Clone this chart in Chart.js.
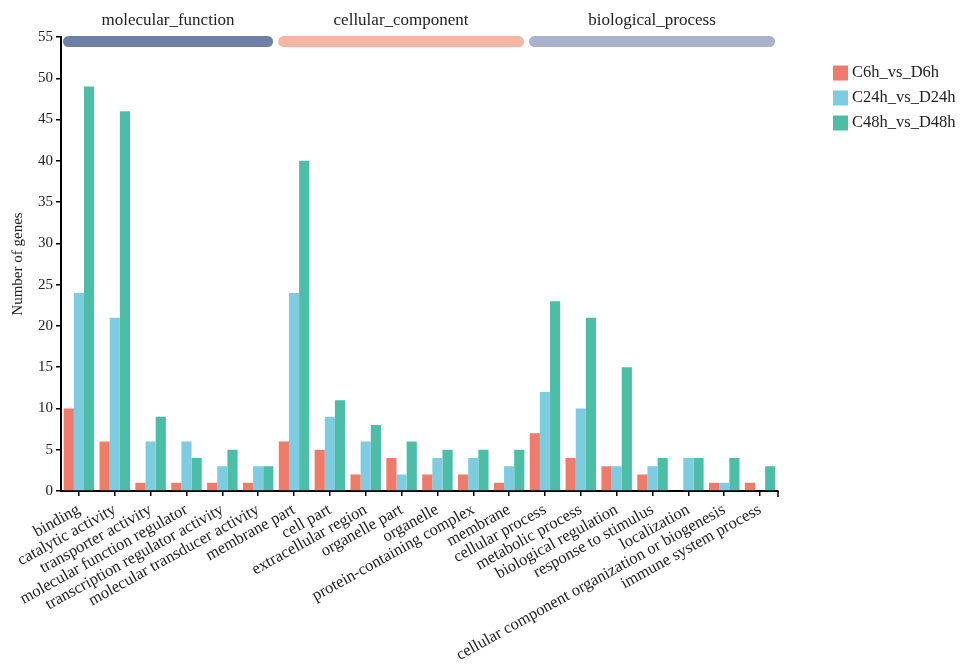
<!DOCTYPE html>
<html><head><meta charset="utf-8">
<script src="https://cdn.jsdelivr.net/npm/chart.js@4.4.1/dist/chart.umd.min.js"></script>
<style>html,body{margin:0;padding:0;background:#fff}#wrap{width:963px;height:665px;position:relative}</style>
</head><body><div id="wrap"><canvas id="c"></canvas></div>
<script>
const categories = ['binding','catalytic activity','transporter activity','molecular function regulator','transcription regulator activity','molecular transducer activity','membrane part','cell part','extracellular region','organelle part','organelle','protein-containing complex','membrane','cellular process','metabolic process','biological regulation','response to stimulus','localization','cellular component organization or biogenesis','immune system process'];
const c6h = [10,6,1,1,1,1,6,5,2,4,2,2,1,7,4,3,2,0,1,1];
const c24h = [24,21,6,6,3,3,24,9,6,2,4,4,3,12,10,3,3,4,1,0];
const c48h = [49,46,9,4,5,3,40,11,8,6,5,5,5,23,21,15,4,4,4,3];
const seriesNames = ['C6h_vs_D6h','C24h_vs_D24h','C48h_vs_D48h'];
const seriesColors = ['#ef7b6b','#7ecce0','#4cbea8'];
const groupNames = ['molecular_function','cellular_component','biological_process'];
const groupStart = [0,6,13];
const groupEnd = [5,12,19];
const groupColors = ['#6f80a8','#f5b6a4','#a9b1cc'];
const yMin = 0, yMax = 55, yStep = 5;

const FONT = 'Liberation Serif';

const decor = {
  id: 'decor',
  afterDraw(chart) {
    const ctx = chart.ctx;
    const xs = chart.scales.x;
    const ca = chart.chartArea;
    const half = (xs.getPixelForValue(1) - xs.getPixelForValue(0)) / 2;
    ctx.save();
    for (let g = 0; g < groupNames.length; g++) {
      const x0 = xs.getPixelForValue(groupStart[g]) - half + 2;
      const x1 = xs.getPixelForValue(groupEnd[g]) + half - 3;
      const y0 = ca.top - 1, h = 11;
      ctx.fillStyle = groupColors[g];
      ctx.beginPath();
      ctx.roundRect(x0, y0, x1 - x0, h, h / 2);
      ctx.fill();
      ctx.fillStyle = '#222';
      ctx.font = '17px "' + FONT + '"';
      ctx.textAlign = 'center';
      ctx.textBaseline = 'middle';
      ctx.fillText(groupNames[g], (x0 + x1) / 2, ca.top - 16);
    }
    ctx.strokeStyle = '#000';
    ctx.lineWidth = 1.5;
    ctx.beginPath();
    ctx.moveTo(ca.right, ca.bottom);
    ctx.lineTo(ca.right, ca.bottom + 6);
    ctx.stroke();
    const lx = ca.right + 55, ly = ca.top + 36;
    ctx.font = '16.5px "' + FONT + '"';
    ctx.textAlign = 'left';
    ctx.textBaseline = 'middle';
    for (let i = 0; i < seriesNames.length; i++) {
      const y = ly + i * 25;
      ctx.fillStyle = seriesColors[i];
      ctx.fillRect(lx, y - 7.5, 15, 15);
      ctx.fillStyle = '#222';
      ctx.fillText(seriesNames[i], lx + 19, y);
    }
    ctx.restore();
  }
};

new Chart(document.getElementById('c'), {
  type: 'bar',
  data: {
    labels: categories,
    datasets: [
      { label: seriesNames[0], data: c6h, backgroundColor: seriesColors[0] },
      { label: seriesNames[1], data: c24h, backgroundColor: seriesColors[1] },
      { label: seriesNames[2], data: c48h, backgroundColor: seriesColors[2] }
    ]
  },
  options: {
    responsive: true,
    maintainAspectRatio: false,
    animation: false,
    devicePixelRatio: 1,
    layout: { padding: { left: 5, right: 185, top: 37, bottom: 0 } },
    datasets: { bar: { categoryPercentage: 0.85, barPercentage: 1.0 } },
    plugins: { legend: { display: false }, tooltip: { enabled: false } },
    scales: {
      x: {
        afterFit(s) { s.height = 174; },
        grid: { offset: false, drawOnChartArea: false, color: '#000', lineWidth: 1.5, tickLength: 5 },
        border: { display: true, color: '#000', width: 2 },
        ticks: { autoSkip: false, maxRotation: 29, minRotation: 29, color: '#222', font: { family: FONT, size: 16.5 }, padding: 4 }
      },
      y: {
        min: yMin, max: yMax,
        afterFit(s) { s.width = 56; },
        grid: { drawOnChartArea: false, color: '#000', lineWidth: 1.5, tickLength: 5 },
        border: { display: true, color: '#000', width: 2 },
        ticks: { stepSize: yStep, color: '#222', font: { family: FONT, size: 15 }, padding: 3 },
        title: { display: true, text: 'Number of genes', color: '#222', font: { family: FONT, size: 15 }, padding: 4 }
      }
    }
  },
  plugins: [decor]
});
</script>
</body></html>
